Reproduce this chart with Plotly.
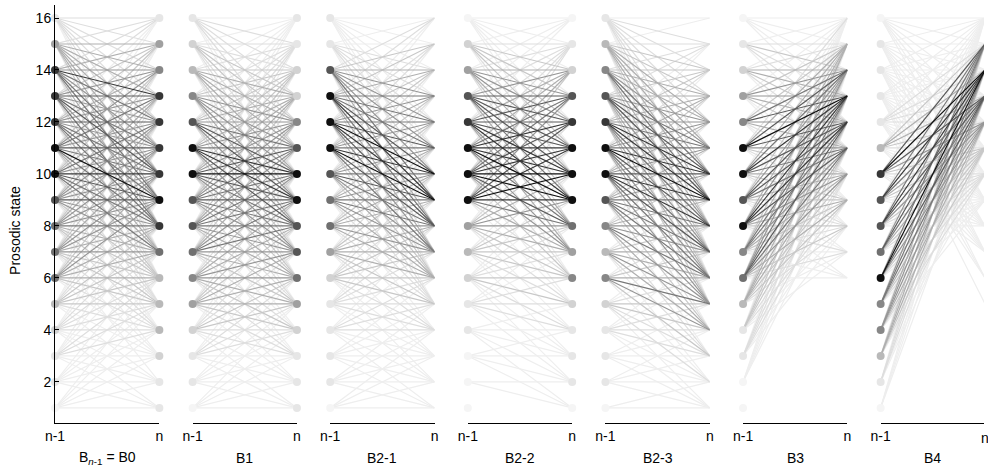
import plotly.graph_objects as go

# ---------------- data ----------------
PANEL_LABELS = ["B<sub><i>n</i>-1</sub> = B0", "B1", "B2-1", "B2-2", "B2-3", "B3", "B4"]
STATES = list(range(1, 17))
Y_TICKS = [2, 4, 6, 8, 10, 12, 14, 16]
X_TICK_TEXT = ["n-1", "n"]

# node darkness (0 = almost white .. 9 = black), states 1..16
PREV_SHADE = [
    "0112366679988841",  # B0
    "0112456779975321",  # B1
    "0111124667999711",  # B2-1
    "0001123499987420",  # B2-2
    "0111253579987531",  # B2-3
    "0011365979954210",  # B3
    "0135596778311110",  # B4
]
NEXT_SHADE = [
    "1123336898888541",
    "1112467799752211",
    "0111258799754311",
    "0111254699987210",
    "1115687987541111",
    "0000011124699641",
    "0000000012356961",
]

# transition darkness: row = state at n-1 (1..16), column = state at n (1..16)
TRANS_B0 = [
    "1111110000000000",
    "1111111000000000",
    "1112221110000000",
    "1112222211000000",
    "0112333322110000",
    "0012344454321000",
    "0112335455432100",
    "0012334655543210",
    "0001235575554310",
    "0001236678564321",
    "0000234696756531",
    "0000124666575431",
    "0000023657657532",
    "0000012466568542",
    "0000001344444442",
    "0000000112222222",
]
TRANS_B1 = [
    "1111100000000000",
    "1111110000000000",
    "1112221100000000",
    "1122332211000000",
    "0123444332100000",
    "0123455443210000",
    "0012345665432100",
    "0011345666543210",
    "0001245676654321",
    "0000235679754321",
    "0000135788654321",
    "0000023577654321",
    "0000012455554321",
    "0000001234444321",
    "0000000122333221",
    "0000000011222221",
]
TRANS_B21 = [
    "1111000000000000",
    "1111100000000000",
    "1111110000000000",
    "1112221100000000",
    "0112222211000000",
    "0112333322100000",
    "0012344433210000",
    "0001245544321000",
    "0001245665432100",
    "0000245676543210",
    "0000236798654321",
    "0000135789765321",
    "0000024687666432",
    "0000012465555432",
    "0000000112222211",
    "0000000011111111",
]
TRANS_B22 = [
    "0000000000000000",
    "1100000000000000",
    "1111000000000000",
    "1111100000000000",
    "0112221100000000",
    "0112332211000000",
    "0011233332100000",
    "0001234554321000",
    "0000124689875320",
    "0000135799876420",
    "0000025698886420",
    "0000014588777421",
    "0000002467777521",
    "0000000234555421",
    "0000000012333321",
    "0000000001111111",
]
TRANS_B23 = [
    "1100000000000000",
    "1111000000000000",
    "1111100000000000",
    "1122211000000000",
    "1223321100000000",
    "0135643210000000",
    "0124544321000000",
    "0024565543210000",
    "0013566665432000",
    "0002567887543100",
    "0001456798654210",
    "0000345688654310",
    "0000234577654320",
    "0000123466544320",
    "0000012344443321",
    "0000001122222221",
]
TRANS_B3 = [
    "0000000000000000",
    "0000000001111100",
    "0000000112222100",
    "0000001122333210",
    "0000001233444321",
    "0000012345676541",
    "0000011234566431",
    "0000012345788541",
    "0000011234677531",
    "0000001234678641",
    "0000000123579742",
    "0000000112457631",
    "0000000011345531",
    "0000000001234421",
    "0000000000122321",
    "0000000000011111",
]
TRANS_B4 = [
    "0000000000011110",
    "0000000000112221",
    "0000000001234431",
    "0000000012345541",
    "0000000012346651",
    "0000000012357961",
    "0000000012346751",
    "0000000112357861",
    "0000000112346861",
    "0000001112357971",
    "0000001111234431",
    "0000011111122221",
    "0000111111111111",
    "0000011111111111",
    "0000001111111111",
    "0000000011111111",
]
TRANSITIONS = [TRANS_B0, TRANS_B1, TRANS_B21, TRANS_B22, TRANS_B23, TRANS_B3, TRANS_B4]

# ---------------- style ----------------
LINE_GRAY = [255, 238, 222, 200, 175, 150, 120, 90, 55, 15]
NODE_GRAY = [245, 230, 210, 185, 160, 135, 112, 85, 55, 15]
FONT = "Liberation Sans, Arial, Helvetica, sans-serif"

W, H = 988, 472
ML, MR, MT, MB = 55, 0, 5, 49
PW = W - ML - MR
PH = H - MT - MB
PANEL_PX = 104.8
PERIOD_PX = 138.2
Y_RANGE = [0.42, 16.5]


def gray(v):
    return f"rgb({v},{v},{v})"


fig = go.Figure()
layout = {}
annotations = []

for k in range(len(PANEL_LABELS)):
    xref = "x" if k == 0 else f"x{k + 1}"
    axkey = "xaxis" if k == 0 else f"xaxis{k + 1}"
    d0 = k * PERIOD_PX / PW
    d1 = min(1.0, (k * PERIOD_PX + PANEL_PX) / PW)
    xmax = (d1 - d0) * PW / PANEL_PX
    layout[axkey] = dict(
        domain=[d0, d1], range=[0, xmax], anchor="y",
        showline=True, linecolor="black", linewidth=1,
        ticks="inside", ticklen=4, tickcolor="black",
        tickvals=[0, 1], ticktext=X_TICK_TEXT,
        tickfont=dict(size=14, color="black", family=FONT),
        showgrid=False, zeroline=False, fixedrange=True,
    )

    mat = TRANSITIONS[k]
    for lev in range(1, 10):
        xs, ys = [], []
        for i, row in enumerate(mat):
            for j, ch in enumerate(row):
                if int(ch) == lev:
                    xs += [0, 1, None]
                    ys += [STATES[i], STATES[j], None]
        if xs:
            fig.add_trace(go.Scatter(
                x=xs, y=ys, mode="lines", xaxis=xref, yaxis="y",
                line=dict(color=gray(LINE_GRAY[lev]), width=1.2),
                hoverinfo="skip", showlegend=False,
            ))

    cols = [gray(NODE_GRAY[int(c)]) for c in PREV_SHADE[k]] + \
           [gray(NODE_GRAY[int(c)]) for c in NEXT_SHADE[k]]
    fig.add_trace(go.Scatter(
        x=[0] * len(STATES) + [1] * len(STATES), y=STATES + STATES,
        mode="markers", xaxis=xref, yaxis="y", cliponaxis=False,
        marker=dict(size=8, color=cols, line=dict(width=0)),
        hoverinfo="skip", showlegend=False,
    ))

    annotations.append(dict(
        text=PANEL_LABELS[k], xref="paper", yref="paper",
        x=(k * PERIOD_PX + PANEL_PX / 2) / PW, y=-35 / PH,
        xanchor="center", yanchor="middle", showarrow=False,
        font=dict(size=14, color="black", family=FONT),
    ))

# clipped "n" of the last panel
annotations.append(dict(
    text=X_TICK_TEXT[1], xref="paper", yref="paper",
    x=(6 * PERIOD_PX + PANEL_PX) / PW, y=-15 / PH,
    xanchor="center", yanchor="middle", showarrow=False,
    font=dict(size=14, color="black", family=FONT),
))
annotations.append(dict(
    text="Prosodic state", xref="paper", yref="paper",
    x=-40 / PW, y=0.46, textangle=-90,
    xanchor="center", yanchor="middle", showarrow=False,
    font=dict(size=14, color="black", family=FONT),
))

layout["yaxis"] = dict(
    domain=[0, 1], range=Y_RANGE, anchor="x",
    showline=True, linecolor="black", linewidth=1,
    ticks="inside", ticklen=4, tickcolor="black",
    tickvals=Y_TICKS, tickfont=dict(size=14, color="black", family=FONT),
    showgrid=False, zeroline=False, fixedrange=True,
)

fig.update_layout(
    width=W, height=H, autosize=False,
    margin=dict(l=ML, r=MR, t=MT, b=MB, pad=0),
    paper_bgcolor="white", plot_bgcolor="white",
    annotations=annotations, showlegend=False,
    font=dict(family=FONT, color="black"),
    **layout,
)

fig.write_html("out.html")
